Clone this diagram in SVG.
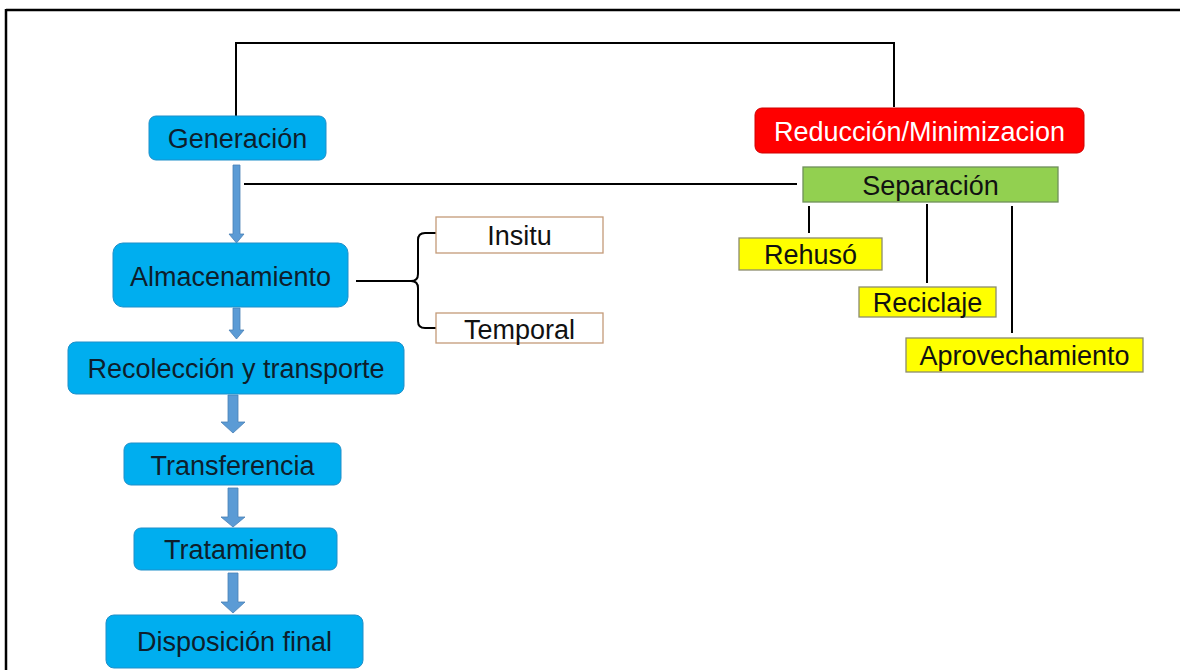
<svg xmlns="http://www.w3.org/2000/svg" width="1180" height="670" viewBox="0 0 1180 670">
<defs>
<style>
text{font-family:"Liberation Sans",Arial,sans-serif;font-size:27px;text-anchor:middle;fill:#111}
.bt{fill:#0E1E2C}
.blue{fill:#00AEEF;stroke:#1E8FC9;stroke-width:1}
.out{fill:#fff;stroke:#C49A78;stroke-width:1.3}
.yel{fill:#FFFF00;stroke:#8C8C6E;stroke-width:1.3}
.ln{fill:none;stroke:#000;stroke-width:2}
.arr{fill:#5B9BD5;stroke:#4A80B5;stroke-width:0.8}
</style>
</defs>
<g id="frame">
<line x1="6" y1="10" x2="1180" y2="10" stroke="#000" stroke-width="2.5"/>
<line x1="6" y1="9" x2="6" y2="670" stroke="#000" stroke-width="2.5"/>
</g>
<g id="connectors">
<polyline class="ln" points="236,116 236,43 894,43 894,107"/>
<line class="ln" x1="244" y1="184" x2="797" y2="184"/>
<line class="ln" x1="356" y1="281" x2="412" y2="281"/>
<path class="ln" d="M436 233 L425 233 Q418 233 418 240 L418 274 Q418 281 411 281 Q418 281 418 288 L418 321 Q418 328 425 328 L436 328"/>
<line class="ln" x1="809" y1="206" x2="809" y2="233"/>
<line class="ln" x1="927" y1="204" x2="927" y2="283"/>
<line class="ln" x1="1012" y1="206" x2="1012" y2="333"/>
<path class="arr" d="M233 165 L240 165 L240 234 L244 234 L236.5 243 L229 234 L233 234 Z"/>
<path class="arr" d="M233 308 L240 308 L240 330 L244 330 L236.5 339 L229 330 L233 330 Z"/>
<path class="arr" d="M228 395 L238 395 L238 422 L245 422 L233 433 L221 422 L228 422 Z"/>
<path class="arr" d="M228 488 L238 488 L238 517 L245 517 L233 527 L221 517 L228 517 Z"/>
<path class="arr" d="M228 573 L238 573 L238 602 L245 602 L233 613 L221 602 L228 602 Z"/>
</g>
<g id="generacion">
<rect class="blue" x="149" y="116" width="177" height="44" rx="7"/>
<text class="bt" x="237.5" y="147.5">Generación</text>
</g>
<g id="almacenamiento">
<rect class="blue" x="113" y="243" width="235" height="64" rx="10"/>
<text class="bt" x="230.5" y="286">Almacenamiento</text>
</g>
<g id="recoleccion">
<rect class="blue" x="68" y="342" width="336" height="52" rx="8"/>
<text class="bt" x="236" y="378">Recolección y transporte</text>
</g>
<g id="transferencia">
<rect class="blue" x="124" y="443" width="217" height="42" rx="7"/>
<text class="bt" x="232.5" y="474.5">Transferencia</text>
</g>
<g id="tratamiento">
<rect class="blue" x="134" y="528" width="203" height="42" rx="7"/>
<text class="bt" x="235.5" y="558.5">Tratamiento</text>
</g>
<g id="disposicion">
<rect class="blue" x="106" y="615" width="257" height="53" rx="8"/>
<text class="bt" x="234.5" y="651">Disposición final</text>
</g>
<g id="insitu">
<rect class="out" x="436" y="217" width="167" height="36"/>
<text x="519.5" y="244.5">Insitu</text>
</g>
<g id="temporal">
<rect class="out" x="436" y="313" width="167" height="30"/>
<text x="519.5" y="338.5">Temporal</text>
</g>
<g id="reduccion">
<rect x="755" y="108" width="329" height="45" rx="7" fill="#FF0000" stroke="#D00000" stroke-width="1"/>
<text x="919.5" y="140.5" style="fill:#fff">Reducción/Minimizacion</text>
</g>
<g id="separacion">
<rect x="803" y="167" width="255" height="35" fill="#92D050" stroke="#6F8F5A" stroke-width="1.3"/>
<text x="930.5" y="194.5">Separación</text>
</g>
<g id="rehuso">
<rect class="yel" x="739" y="238" width="143" height="32"/>
<text x="810.5" y="263.5">Rehusó</text>
</g>
<g id="reciclaje">
<rect class="yel" x="859" y="287" width="137" height="30"/>
<text x="927.5" y="311.5">Reciclaje</text>
</g>
<g id="aprovechamiento">
<rect class="yel" x="906" y="338" width="237" height="34"/>
<text x="1024.5" y="364.5">Aprovechamiento</text>
</g>
</svg>
